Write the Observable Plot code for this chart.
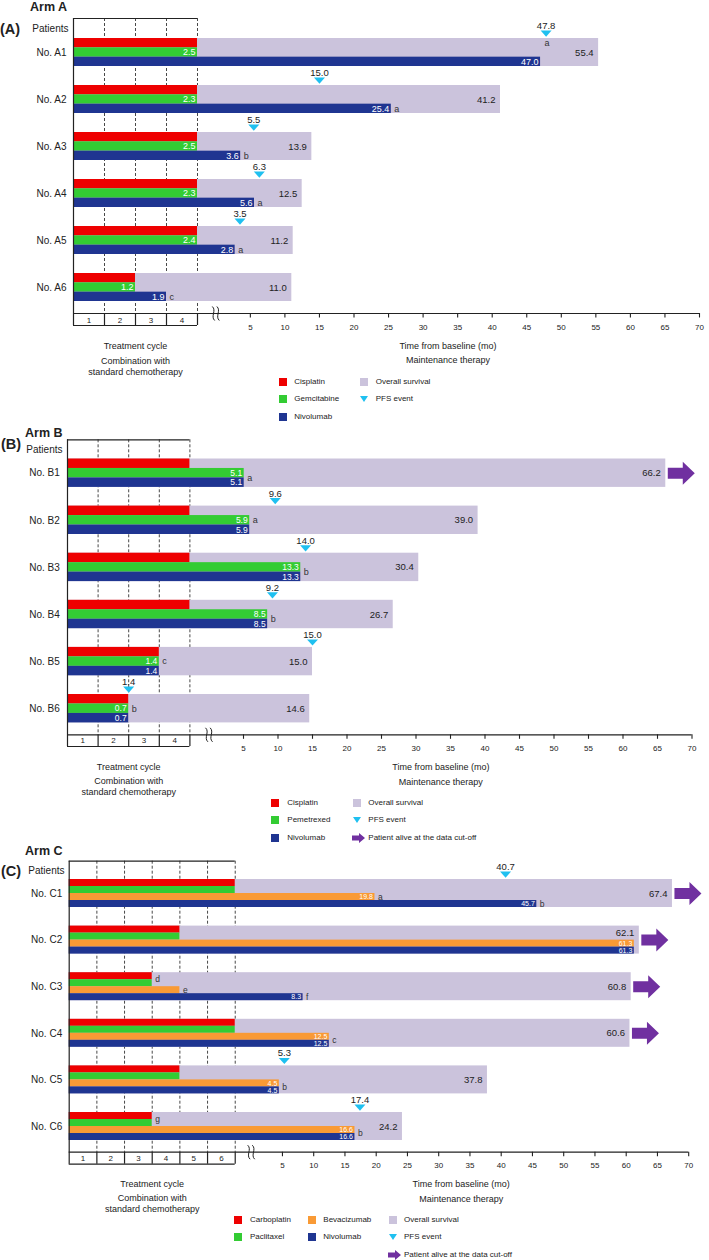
<!DOCTYPE html>
<html><head><meta charset="utf-8">
<script src="https://cdn.jsdelivr.net/npm/d3@7"></script>
<script src="https://cdn.jsdelivr.net/npm/@observablehq/plot@0.6"></script>
<style>
html,body{margin:0;padding:0;background:#fff;overflow:hidden;font-family:"Liberation Sans",Arial,sans-serif;}
#root{position:relative;width:709px;height:1260px;overflow:hidden}
.panel{position:absolute;left:0;width:709px}
.panel svg{position:absolute;left:0;top:0;max-width:none}
.abs{position:absolute;white-space:nowrap;color:#222}
</style></head><body><div id="root"></div><script>
// ---------------- DATA ----------------
const timeTickLabels = [5,10,15,20,25,30,35,40,45,50,55,60,65,70];
const cycleLabels4 = ["1","2","3","4"];
const cycleLabels6 = ["1","2","3","4","5","6"];
const cycleCaption = ["Treatment cycle","Combination with","standard chemotherapy"];
const timeCaption = ["Time from baseline (mo)","Maintenance therapy"];

// Arm A
const patientsA = ["No. A1","No. A2","No. A3","No. A4","No. A5","No. A6"];
const cisplatinCyclesA = [4,4,4,4,4,2];
const gemcitabineMoA = [2.5,2.3,2.5,2.3,2.4,1.2];
const gemcitabineCyclesA = [4,4,4,4,4,2];
const nivolumabMoA = [47.0,25.4,3.6,5.6,2.8,1.9];
const nivolumabCyclesA = [null,null,null,null,null,3];
const nivolumabNoteA = ["","a","b","a","a","c"];
const overallSurvivalA = [55.4,41.2,13.9,12.5,11.2,11.0];
const pfsA = [47.8,15.0,5.5,6.3,3.5,null];
const pfsNoteA = ["a","","","","",""];
const aliveA = [false,false,false,false,false,false];
const legendA = [["Cisplatin","Gemcitabine","Nivolumab"],["Overall survival","PFS event"]];

// Arm B
const patientsB = ["No. B1","No. B2","No. B3","No. B4","No. B5","No. B6"];
const cisplatinCyclesB = [4,4,4,4,3,2];
const pemetrexedMoB = [5.1,5.9,13.3,8.5,1.4,0.7];
const pemetrexedCyclesB = [null,null,null,null,3,2];
const pemetrexedNoteB = ["","a","","","c","b"];
const nivolumabMoB = [5.1,5.9,13.3,8.5,1.4,0.7];
const nivolumabCyclesB = [null,null,null,null,3,2];
const pemNivoNoteB = ["a","","b","b","",""];
const overallSurvivalB = [66.2,39.0,30.4,26.7,15.0,14.6];
const pfsB = [null,9.6,14.0,9.2,15.0,1.4];
const pfsCyclesB = [null,null,null,null,null,2];
const aliveB = [true,false,false,false,false,false];
const legendB = [["Cisplatin","Pemetrexed","Nivolumab"],["Overall survival","PFS event","Patient alive at the data cut-off"]];

// Arm C
const patientsC = ["No. C1","No. C2","No. C3","No. C4","No. C5","No. C6"];
const carboplatinCyclesC = [6,4,3,6,4,3];
const paclitaxelCyclesC = [6,4,3,6,4,3];
const chemoNoteC = ["","","d","","","g"];
const bevacizumabMoC = [19.8,61.3,null,12.5,4.5,16.6];
const bevacizumabCyclesC = [null,null,4,null,null,null];
const bevacizumabNoteC = ["a","","e","","",""];
const nivolumabMoC = [45.7,61.3,8.3,12.5,4.5,16.6];
const nivolumabNoteC = ["b","","f","","",""];
const bevNivoNoteC = ["","","","c","b","b"];
const overallSurvivalC = [67.4,62.1,60.8,60.6,37.8,24.2];
const pfsC = [40.7,null,null,null,5.3,17.4];
const aliveC = [true,true,true,true,false,false];
const legendC = [["Carboplatin","Paclitaxel"],["Bevacizumab","Nivolumab"],["Overall survival","PFS event","Patient alive at the data cut-off"]];

// ---------------- STYLE ----------------
const COLORS = {
  "Cisplatin":"#ee0000","Carboplatin":"#ee0000",
  "Gemcitabine":"#33cc33","Pemetrexed":"#33cc33","Paclitaxel":"#33cc33",
  "Bevacizumab":"#f99a35","Nivolumab":"#1f3591",
  "Overall survival":"#cbc3dc","PFS event":"#1fc0f0",
  "Patient alive at the data cut-off":"#7030a0"
};
const triDown = {draw(ctx){ctx.moveTo(-5.5,-3);ctx.lineTo(5.5,-3);ctx.lineTo(0,3.2);ctx.closePath();}};
const arrowSym = {draw(ctx){ctx.moveTo(2,-5.5);ctx.lineTo(17,-5.5);ctx.lineTo(17,-11.5);ctx.lineTo(29,0);ctx.lineTo(17,11.5);ctx.lineTo(17,5.5);ctx.lineTo(2,5.5);ctx.closePath();}};
const breakSym = {draw(ctx){for(const o of [-2.3,2.3]){ctx.moveTo(o-1.2,-7);ctx.bezierCurveTo(o+3.2,-3,o-3.2,3,o+1.2,7);}}};

function panel(cfg){
  const L = cfg.layout;
  const n = cfg.cycleLabels.length;
  const uL = (L.xLeft - L.x0)/L.k, cw = L.cwPx/L.k;
  const cx = c => uL + c*cw;
  const Y = px => (px - L.row0)/L.rowPx;
  const half = L.blockPx/2/L.rowPx;
  const nT = cfg.tracks.length, h = 2*half/nT;
  const endOf = (t,i) => (t.cycles && t.cycles[i] != null) ? cx(t.cycles[i]) : (t.mo ? t.mo[i] : null);
  const idx = cfg.patients.map((_,i)=>i);
  const ink = "#222";
  const marks = [];
  // dotted cycle grid
  marks.push(Plot.ruleX(d3.range(1,n+1),{x:cx,y1:Y(L.boxTop),y2:Y(L.axisY),stroke:"#333",strokeWidth:0.9,strokeDasharray:"3,2"}));
  // overall survival
  marks.push(Plot.rect(idx,{x1:uL,x2:i=>cfg.os[i],y1:i=>i-half,y2:i=>i+half,fill:COLORS["Overall survival"]}));
  // treatment tracks
  cfg.tracks.forEach((t,ti)=>{
    const rows = idx.filter(i=>endOf(t,i)!=null);
    marks.push(Plot.rect(rows,{x1:uL,x2:i=>endOf(t,i),y1:i=>i-half+ti*h,y2:i=>i-half+(ti+1)*h,fill:COLORS[t.name]}));
    if (t.mo) marks.push(Plot.text(rows.filter(i=>t.mo[i]!=null),{x:i=>endOf(t,i),y:i=>i-half+(ti+0.5)*h,text:i=>t.mo[i].toFixed(1),textAnchor:"end",dx:-2,fill:"white",fontSize:L.valueFont}));
  });
  // footnote letters
  cfg.notes.forEach(nt=>{
    const lo=Math.floor(nt.at), hi=Math.ceil(nt.at);
    const rows = idx.filter(i=>nt.text[i]);
    marks.push(Plot.text(rows,{x:i=>Math.max(endOf(cfg.tracks[lo],i)??-99,endOf(cfg.tracks[hi],i)??-99),y:i=>i-half+(nt.at+0.5)*h,text:i=>nt.text[i],textAnchor:"start",dx:3,fill:"#333",fontSize:L.noteFont}));
  });
  // OS labels
  marks.push(Plot.text(idx,{x:i=>cfg.os[i],y:i=>{const m=Math.max(...cfg.tracks.map(t=>endOf(t,i)??-99));return m>cfg.os[i]-4?i-half+h:i;},text:i=>cfg.os[i].toFixed(1),textAnchor:"end",dx:-5,fill:ink,fontSize:9.5}));
  // PFS events
  const pfsRows = idx.filter(i=>cfg.pfs[i]!=null);
  const pfsX = i => (cfg.pfsCycles && cfg.pfsCycles[i]!=null) ? cx(cfg.pfsCycles[i]) : cfg.pfs[i];
  marks.push(Plot.dot(pfsRows,{x:pfsX,y:i=>i-half-5/L.rowPx,symbol:triDown,fill:COLORS["PFS event"],stroke:"none"}));
  marks.push(Plot.text(pfsRows,{x:pfsX,y:i=>i-half-12.5/L.rowPx,text:i=>cfg.pfs[i].toFixed(1),fill:ink,fontSize:9.5}));
  if (cfg.pfsNote) marks.push(Plot.text(idx.filter(i=>cfg.pfsNote[i]),{x:pfsX,y:i=>i-half+4.5/L.rowPx,text:i=>cfg.pfsNote[i],dx:1,fill:"#333",fontSize:L.noteFont}));
  // alive arrows
  marks.push(Plot.dot(idx.filter(i=>cfg.alive[i]),{x:i=>cfg.os[i],y:i=>i,symbol:arrowSym,fill:COLORS["Patient alive at the data cut-off"],stroke:"none"}));
  // box & axis
  marks.push(Plot.ruleX([0],{x:cx,y1:Y(L.boxTop),y2:Y(L.cycBottom),stroke:ink,strokeWidth:1.2}));
  marks.push(Plot.ruleY([Y(L.boxTop)],{x1:uL,x2:cx(n),stroke:ink,strokeWidth:1.2}));
  marks.push(Plot.ruleX(d3.range(1,n+1),{x:cx,y1:Y(L.axisY),y2:Y(L.cycBottom),stroke:ink,strokeWidth:1.2}));
  marks.push(Plot.ruleY([Y(L.cycBottom)],{x1:uL,x2:cx(n),stroke:ink,strokeWidth:1.2}));
  marks.push(Plot.ruleY([Y(L.axisY)],{x1:uL,x2:70,stroke:ink,strokeWidth:1.2}));
  marks.push(Plot.ruleX(timeTickLabels,{x:d=>d,y1:Y(L.axisY),y2:Y(L.axisY+4.5),stroke:ink,strokeWidth:1.1}));
  marks.push(Plot.text(timeTickLabels,{x:d=>d,y:Y(L.tickLabelY),text:d=>String(d),fill:ink,fontSize:8}));
  marks.push(Plot.dot([0],{x:d=>d,y:Y(L.axisY),symbol:breakSym,fill:"none",stroke:ink,strokeWidth:1}));
  marks.push(Plot.text(cfg.cycleLabels,{x:(d,j)=>cx(j+0.5),y:Y(L.cycNumY),text:d=>d,fill:ink,fontSize:8}));
  // labels
  marks.push(Plot.text(cfg.patients,{x:uL,y:(d,i)=>i,text:d=>d,textAnchor:"end",dx:L.rowLabelDx,fill:ink,fontSize:10}));
  marks.push(Plot.text(["Patients"],{x:uL,y:Y(L.patientsY),text:d=>d,textAnchor:"end",dx:L.patientsDx,fill:ink,fontSize:10}));
  marks.push(Plot.text(cycleCaption,{x:cx(n/2),y:(d,j)=>Y(L.capY[j]),text:d=>d,fill:ink,fontSize:9}));
  marks.push(Plot.text(timeCaption,{x:33.6,y:(d,j)=>Y(L.timeCapY[j]),text:d=>d,fill:ink,fontSize:9}));

  const svg = Plot.plot({
    width:709,height:L.H,
    x:{type:"linear",domain:[uL,70],range:[L.xLeft,L.x0+70*L.k],axis:null},
    y:{type:"linear",domain:[0,1],range:[L.row0,L.row0+L.rowPx],axis:null},
    style:{fontFamily:'"Liberation Sans", Arial, sans-serif',fontSize:"10px",color:"#222",background:"transparent",overflow:"visible"},
    marks
  });
  const div = document.createElement("div");
  div.className="panel";
  div.style.top=L.top+"px"; div.style.height=L.H+"px";
  div.appendChild(svg);
  const put=(txt,x,cy,fs,bold)=>{const e=document.createElement("div");e.className="abs";e.textContent=txt;
    e.style.left=x+"px";e.style.top=(cy-fs*0.62)+"px";e.style.fontSize=fs+"px";e.style.lineHeight=(fs*1.24)+"px";
    if(bold)e.style.fontWeight="bold";div.appendChild(e);};
  put(cfg.title,L.armTitle[0],L.armTitle[1],12.5,true);
  put(cfg.tag,L.tag[0],L.tag[1],14.5,true);
  // legend
  cfg.legend.forEach((col,ci)=>col.forEach((lab,ri)=>{
    const ix=L.legendCols[ci][0], tx=L.legendCols[ci][1], cy=L.legendRows[ri];
    let icon;
    if(lab==="PFS event"){icon=`<svg width="8" height="6" style="position:absolute;left:${ix}px;top:${cy-3}px"><polygon points="0,0 8,0 4,6" fill="${COLORS[lab]}"/></svg>`;}
    else if(lab.startsWith("Patient alive")){icon=`<svg width="13" height="10" style="position:absolute;left:${ix-1}px;top:${cy-5}px"><polygon points="0,2.5 7,2.5 7,0 13,5 7,10 7,7.5 0,7.5" fill="${COLORS[lab]}"/></svg>`;}
    else {icon=`<div style="position:absolute;left:${ix}px;top:${cy-4}px;width:8px;height:8px;background:${COLORS[lab]}"></div>`;}
    div.insertAdjacentHTML("beforeend",icon);
    put(lab,tx,cy,8,false);
  }));
  document.getElementById("root").appendChild(div);
}

panel({
  title:"Arm A",tag:"(A)",patients:patientsA,cycleLabels:cycleLabels4,
  tracks:[{name:"Cisplatin",cycles:cisplatinCyclesA},{name:"Gemcitabine",mo:gemcitabineMoA,cycles:gemcitabineCyclesA},{name:"Nivolumab",mo:nivolumabMoA,cycles:nivolumabCyclesA}],
  notes:[{at:2,text:nivolumabNoteA}],
  os:overallSurvivalA,pfs:pfsA,pfsNote:pfsNoteA,alive:aliveA,legend:legendA,
  layout:{top:0,H:425,xLeft:73,cwPx:31,x0:215.3,k:6.91,boxTop:18,row0:52,rowPx:47,blockPx:28,axisY:313,cycBottom:325,cycNumY:319.5,tickLabelY:327,
    rowLabelDx:-7,patientsY:28,patientsDx:-5,capY:[346,361,372],timeCapY:[346,360],legendRows:[381.7,399.3,416.7],legendCols:[[279.3,294.3],[360.3,375.7]],
    armTitle:[30,7.5],tag:[0,29.5],valueFont:9,noteFont:9}
});
panel({
  title:"Arm B",tag:"(B)",patients:patientsB,cycleLabels:cycleLabels4,
  tracks:[{name:"Cisplatin",cycles:cisplatinCyclesB},{name:"Pemetrexed",mo:pemetrexedMoB,cycles:pemetrexedCyclesB},{name:"Nivolumab",mo:nivolumabMoB,cycles:nivolumabCyclesB}],
  notes:[{at:1,text:pemetrexedNoteB},{at:1.5,text:pemNivoNoteB}],
  os:overallSurvivalB,pfs:pfsB,pfsCycles:pfsCyclesB,alive:aliveB,legend:legendB,
  layout:{top:425,H:420,xLeft:67,cwPx:30.6,x0:208.5,k:6.9,boxTop:14.3,row0:47.7,rowPx:47.1,blockPx:28.4,axisY:309.3,cycBottom:321,cycNumY:315,tickLabelY:322.5,
    rowLabelDx:-7.7,patientsY:24.3,patientsDx:-5,capY:[341.7,356,367],timeCapY:[342,356.7],legendRows:[377.7,395,412.7],legendCols:[[270.7,287.3],[353.3,368.3]],
    armTitle:[25,8.3],tag:[1,20],valueFont:8.5,noteFont:9}
});
panel({
  title:"Arm C",tag:"(C)",patients:patientsC,cycleLabels:cycleLabels6,
  tracks:[{name:"Carboplatin",cycles:carboplatinCyclesC},{name:"Paclitaxel",cycles:paclitaxelCyclesC},{name:"Bevacizumab",mo:bevacizumabMoC,cycles:bevacizumabCyclesC},{name:"Nivolumab",mo:nivolumabMoC}],
  notes:[{at:0.5,text:chemoNoteC},{at:2,text:bevacizumabNoteC},{at:3,text:nivolumabNoteC},{at:2.5,text:bevNivoNoteC}],
  os:overallSurvivalC,pfs:pfsC,alive:aliveC,legend:legendC,
  layout:{top:845,H:415,xLeft:68.7,cwPx:27.67,x0:250.7,k:6.25,boxTop:15.7,row0:48,rowPx:46.6,blockPx:28,axisY:306.7,cycBottom:318.7,cycNumY:313.3,tickLabelY:320,
    rowLabelDx:-7,patientsY:25.7,patientsDx:-4.7,capY:[339,352.7,364],timeCapY:[338.7,353.7],legendRows:[375,392.3,409.7],legendCols:[[234.3,250],[307.7,323.3],[389.3,404]],
    armTitle:[25,6.7],tag:[1,26.7],valueFont:7,noteFont:8.5}
});
</script></body></html>
